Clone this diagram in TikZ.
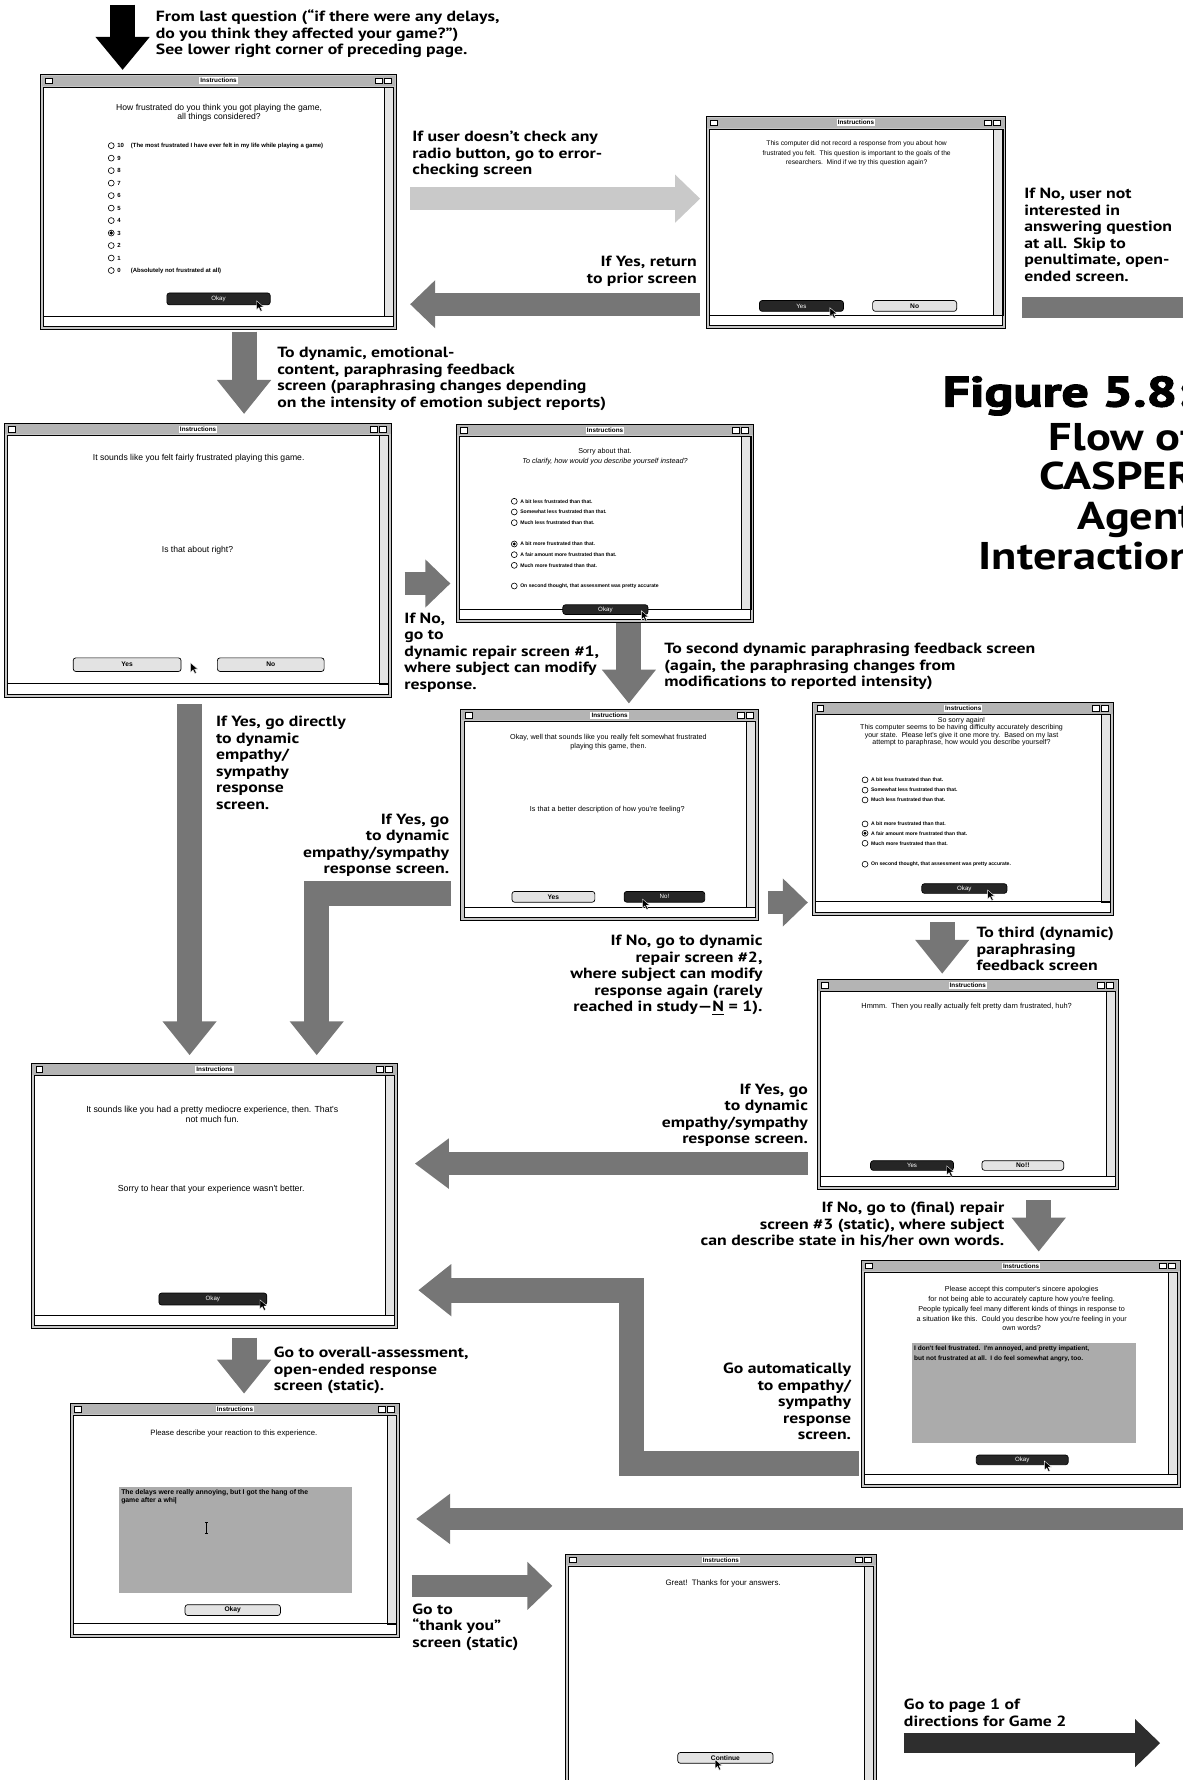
\documentclass[tikz,border=0pt]{standalone}
\usepackage{fontspec}
\setmainfont{PT Sans}[BoldFeatures={FakeStretch=1.2}]
\newfontfamily\winfont{Liberation Sans}
\newfontfamily\heavyfont{PT Sans}[BoldFeatures={FakeBold=3,FakeStretch=1.28}]
\usepackage{tikz}
\usetikzlibrary{arrows.meta,positioning,calc,fit}
\definecolor{arrowgray}{HTML}{767676}
\definecolor{lightarrow}{HTML}{C9C9C9}
\definecolor{darkarrow}{HTML}{2E2E2E}
\definecolor{framegray}{HTML}{C6C6C6}
\definecolor{titlegray}{HTML}{B4B4B4}
\definecolor{scrollgray}{HTML}{E4E4E4}
\definecolor{fieldgray}{HTML}{ABABAB}
\newcommand{\upx}{0.0227cm}
\tikzset{
    screen/.style={draw, fill=framegray, inner sep=0pt, line width=0.5pt},
    field/.style={fill=fieldgray, inner sep=0pt},
    wt/.style 2 args={font=\winfont\fontsize{#1}{#2}\selectfont, align=center, inner sep=0pt, anchor=north},
    wrad/.style={font=\winfont\bfseries\fontsize{2.9}{3.5}\selectfont, inner sep=0pt, anchor=west},
    wtitle/.style={font=\winfont\bfseries\fontsize{3.6}{4}\selectfont, fill=white, inner sep=0.6pt},
    btnlight/.style={draw, fill=gray!22, rounded corners=1.5pt, line width=0.4pt, font=\winfont\bfseries\fontsize{3.8}{4}\selectfont, inner sep=0pt, minimum height=9.5*\upx},
    btndark/.style={btnlight, fill=black!85, text=white, font=\winfont\fontsize{3.5}{4}\selectfont},
    lbl/.style={font=\bfseries\fontsize{8.4}{9.4}\selectfont, align=left, inner sep=0pt, anchor=north west},
    lblr/.style={lbl, align=right, anchor=north east},
    fatv/.style={draw=arrowgray, line width=0.5cm, line join=miter, -{Triangle[length=0.68cm, width=1.04cm]}},
    fath/.style={draw=arrowgray, line width=0.454cm, -{Triangle[length=0.5cm, width=0.93cm]}},
    fatlong/.style={fath, -{Triangle[length=0.68cm, width=0.96cm]}}
}
% window title bar, scroll bar and bottom bar round a screen node
\newcommand{\winchrome}[1]{%
  \fill[white] ($(#1.north west)+(3,11)$) rectangle ($(#1.south east)+(-3,-3)$);
  \fill[titlegray] ($(#1.north west)+(1,1)$) rectangle ($(#1.north east)+(-1,10)$);
  \node[wtitle] at ($(#1.north)+(0,5.5)$) {Instructions};
  \draw[fill=white, line width=0.3pt] ($(#1.north west)+(4,3)$) rectangle ++(6,5);
  \draw[fill=white, line width=0.3pt] ($(#1.north east)+(-19,3)$) rectangle ++(6,5);
  \draw[fill=white, line width=0.3pt] ($(#1.north east)+(-11,3)$) rectangle ++(6,5);
  \draw[fill=scrollgray, line width=0.3pt] ($(#1.north east)+(-11,11)$) rectangle ($(#1.south east)+(-3,-12)$);
  \draw[line width=0.4pt] ($(#1.south west)+(3,-12)$) -- ($(#1.south east)+(-3,-12)$);
  \draw[line width=0.4pt] ($(#1.north west)+(3,11)$) rectangle ($(#1.south east)+(-3,-3)$);
}
\newcommand{\radio}[2]{\draw[line width=0.35pt, fill=white] (#1,#2) circle[radius=2.6];}
\newcommand{\radiosel}[2]{\radio{#1}{#2}\fill (#1,#2) circle[radius=1.5];}
\newcommand{\mousept}[2]{\filldraw[black, draw=white, line width=0.2pt] (#1,#2) -- ++(0,8) -- ++(2,-2) -- ++(1.6,3.3) -- ++(1.4,-0.7) -- ++(-1.6,-3.2) -- ++(2.9,0) -- cycle;}

\begin{document}
\begin{tikzpicture}[x=0.0227cm, y=-0.0227cm]
\useasboundingbox (0,0) rectangle (1042,1568);
\clip (0,0) rectangle (1042,1568);

% screens
\node[screen, fit={(36,66) (349,290)}] (s1) {};
\winchrome{s1}
\node[screen, fit={(622,103) (886,289)}] (s2) {};
\winchrome{s2}
\node[screen, fit={(4,373) (345,614)}] (s3) {};
\winchrome{s3}
\node[screen, fit={(402,374) (664,548)}] (s4) {};
\winchrome{s4}
\node[screen, fit={(406,625) (668,811)}] (s5) {};
\winchrome{s5}
\node[screen, fit={(716,619) (981,806)}] (s6) {};
\winchrome{s6}
\node[screen, fit={(720,863) (985,1048)}] (s7) {};
\winchrome{s7}
\node[screen, fit={(759,1110) (1040,1310)}] (s8) {};
\winchrome{s8}
\node[screen, fit={(28,937) (350,1170)}] (s9) {};
\winchrome{s9}
\node[screen, fit={(62,1236) (352,1442)}] (s10) {};
\winchrome{s10}
\node[screen, fit={(498,1369) (772,1585)}] (s11) {};
\winchrome{s11}

% screen 1
\node[wt={4.9}{5.3}] at (193,91.5) {How frustrated do you think you got playing the game,\\all things considered?};
\foreach \v [count=\i from 0] in {10,9,...,0} {
    \radio{98}{128.3+11*\i}
    \node[wrad, font=\winfont\bfseries\fontsize{3.4}{4}\selectfont] at (103,128.3+11*\i) {\v};
}
\fill (98,205.3) circle[radius=1.6];
\node[wrad, font=\winfont\bfseries\fontsize{3.4}{4}\selectfont] at (115,128.3) {(The most frustrated I have ever felt in my life while playing a game)};
\node[wrad, font=\winfont\bfseries\fontsize{3.4}{4}\selectfont] at (115,238.3) {(Absolutely not frustrated at all)};
\node[btndark, minimum width=91*\upx, minimum height=10.5*\upx] (ok1) at (192.5,263.3) {Okay};
\mousept{226}{265}

% screen 2
\node[wt={3.8}{5.5}] at (754.6,123.5) {This computer did not record a response from you about how\\frustrated you felt.\ \ This question is important to the goals of the\\researchers.\ \ Mind if we try this question again?};
\node[btndark, minimum width=74*\upx] (yes2) at (706,269.5) {Yes};
\node[btnlight, minimum width=74*\upx] (no2) at (805.7,269.5) {No};
\mousept{731}{271}

% screen 3
\node[wt={4.9}{5.5}] at (175,400) {It sounds like you felt fairly frustrated playing this game.};
\node[wt={4.9}{5.5}] at (174,480.5) {Is that about right?};
\node[btnlight, minimum width=95*\upx, minimum height=12*\upx] (yes3) at (112,585.5) {Yes};
\node[btnlight, minimum width=94*\upx, minimum height=12*\upx] (no3) at (238.5,585.5) {No};
\mousept{168}{584}

% screen 4
\node[wt={4.1}{5.5}] at (533,394.5) {Sorry about that.\\\textit{To clarify, how would you describe yourself instead?}};
\radio{453}{441.6} \node[wrad] at (458,441.6) {A bit less frustrated than that.};
\radio{453}{451}   \node[wrad] at (458,451) {Somewhat less frustrated than that.};
\radio{453}{460.4} \node[wrad] at (458,460.4) {Much less frustrated than that.};
\radiosel{453}{479.2} \node[wrad] at (458,479.2) {A bit more frustrated than that.};
\radio{453}{488.6} \node[wrad] at (458,488.6) {A fair amount more frustrated than that.};
\radio{453}{498}   \node[wrad] at (458,498) {Much more frustrated than that.};
\radio{453}{516.2} \node[wrad] at (458,516.2) {On second thought, that assessment was pretty accurate};
\node[btndark, minimum width=75*\upx, minimum height=8.5*\upx] (ok4) at (533.3,537) {Okay};
\mousept{565}{538}

% screen 5
\node[wt={4.1}{5.3}] at (536,646.5) {Okay, well that sounds like you really felt somewhat frustrated\\playing this game, then.};
\node[wt={4.1}{5.3}] at (535,709.5) {Is that a better description of how you're feeling?};
\node[btnlight, minimum width=73*\upx] (yes5) at (487.5,790) {Yes};
\node[btndark, minimum width=71*\upx] (no5) at (585.3,790) {No!};
\mousept{566}{792}

% screen 6
\node[wt={4}{4.3}] at (847,631.3) {So sorry again!\\This computer seems to be having difficulty accurately describing\\your state.\ \ Please let's give it one more try.\ \ Based on my last\\attempt to paraphrase, how would you describe yourself?};
\radio{762}{687}   \node[wrad] at (767,687) {A bit less frustrated than that.};
\radio{762}{696}   \node[wrad] at (767,696) {Somewhat less frustrated than that.};
\radio{762}{704.7} \node[wrad] at (767,704.7) {Much less frustrated than that.};
\radio{762}{725.8} \node[wrad] at (767,725.8) {A bit more frustrated than that.};
\radiosel{762}{734} \node[wrad] at (767,734) {A fair amount more frustrated than that.};
\radio{762}{742.8} \node[wrad] at (767,742.8) {Much more frustrated than that.};
\radio{762}{761.3} \node[wrad] at (767,761.3) {On second thought, that assessment was pretty accurate.};
\node[btndark, minimum width=75*\upx, minimum height=8.5*\upx] (ok6) at (849.5,782.7) {Okay};
\mousept{870}{784}

% screen 7
\node[wt={4.2}{5}] at (851.5,883.3) {Hmmm.\ \ Then you really actually felt pretty darn frustrated, huh?};
\node[btndark, minimum width=73*\upx, minimum height=8.5*\upx] (yes7) at (803.4,1026.7) {Yes};
\node[btnlight, minimum width=72*\upx, minimum height=8.5*\upx] (no7) at (901,1026.7) {No!!};
\mousept{834}{1027}

% screen 8
\node[wt={4.1}{5.6}] at (900,1132.8) {Please accept this computer's sincere apologies\\for not being able to accurately capture how you're feeling.\\People typically feel many different kinds of things in response to\\a situation like this.\ \ Could you describe how you're feeling in your\\own words?};
\node[field, fit={(803,1183) (1001,1271)}] (tf8) {};
\node[wrad, anchor=north west, align=left, font=\winfont\bfseries\fontsize{3.7}{5.2}\selectfont] at (805,1185.5) {I don't feel frustrated.\ \ I'm annoyed, and pretty impatient,\\but not frustrated at all.\ \ I do feel somewhat angry, too.};
\node[btndark, minimum width=81*\upx, minimum height=8.5*\upx] (ok8) at (900.5,1286) {Okay};
\mousept{920}{1287}

% screen 9
\node[wt={5}{5.6}] at (187,974.5) {It sounds like you had a pretty mediocre experience, then. That's\\not much fun.};
\node[wt={5}{5.6}] at (186,1043.3) {Sorry to hear that your experience wasn't better.};
\node[btndark, minimum width=95*\upx, minimum height=10.5*\upx] (ok9) at (187.5,1144.3) {Okay};
\mousept{229}{1145}

% screen 10
\node[wt={4.4}{5}] at (206,1259.5) {Please describe your reaction to this experience.};
\node[field, fit={(105,1310) (310,1403)}] (tf10) {};
\node[wrad, anchor=north west, align=left, font=\winfont\bfseries\fontsize{3.9}{4.6}\selectfont] at (106.5,1312) {The delays were really annoying, but I got the hang of the\\game after a whi|};
\draw[line width=0.45pt] (180.5,1341) -- (183.5,1341) (182,1341) -- (182,1351) (180.5,1351) -- (183.5,1351);
\node[btnlight, minimum width=84*\upx] (ok10) at (205,1418.3) {Okay};

% screen 11
\node[wt={4.5}{5}] at (637,1391) {Great!\ \ Thanks for your answers.};
\node[btnlight, minimum width=84*\upx] (cont) at (639,1548.5) {Continue};
\mousept{630}{1550}

% connectors
\coordinate (prev) at (108,4);
\draw[fatv, draw=black, -{Triangle[length=0.66cm, width=1.04cm]}, shorten >=0.09cm] (prev) -- (prev |- s1.north);
\draw[fath, draw=lightarrow, shorten <=0.27cm, shorten >=0.11cm] (s1.east |- 0,175) -- (s2.west |- 0,175);
\draw[fath, shorten <=0.11cm, shorten >=0.27cm] (s2.west |- 0,268) -- (s1.east |- 0,268);
\coordinate (skip) at (1060,271);
\draw[fath, -, line width=0.41cm, shorten <=0.32cm] (s2.east |- skip) -- (skip);
\draw[fatv, shorten <=0.04cm, shorten >=0.18cm] (s1.south -| 215,0) -- (s3.north -| 215,0);
\draw[fath, shorten <=0.25cm, shorten >=0.11cm] (s3.east |- 0,514) -- (s4.west |- 0,514);
\draw[fatv, shorten >=0.11cm] (s4.south -| 554,0) -- (s5.north -| 554,0);
\draw[fath, shorten <=0.18cm, shorten >=0.09cm] (s5.east |- 0,795) -- (s6.west |- 0,795);
\draw[fatv, shorten <=0.14cm, shorten >=0.11cm] (s6.south -| 830,0) -- (s7.north -| 830,0);
\draw[fatlong, shorten <=0.18cm, shorten >=0.34cm] (s7.west |- 0,1025) -- (s9.east |- 0,1025);
\draw[fatv, shorten <=0.2cm, shorten >=0.16cm] (s7.south -| 915,0) -- (s8.north -| 915,0);
\coordinate (k1) at (556,1289.5);
\coordinate (k2) at (556,1136.5);
\draw[fatv, -{Triangle[length=0.66cm, width=1cm]}, shorten <=0.05cm, shorten >=0.41cm] (s8.west |- k1) -- (k1) -- (k2) -- (s9.east |- k2);
\draw[fatv, shorten <=0.14cm, shorten >=0.16cm] (s3.south -| 167,0) -- (s9.north -| 167,0);
\coordinate (k3) at (279,787);
\draw[fatv, shorten <=0.18cm, shorten >=0.16cm] (s5.west |- k3) -- (k3) -- (s9.north -| k3);
\draw[fatv, shorten <=0.18cm, shorten >=0.18cm] (s9.south -| 215,0) -- (s10.north -| 215,0);
\coordinate (skipin) at (1060,1338);
\draw[fatlong, shorten >=0.32cm] (skipin) -- (s10.east |- skipin);
\draw[fath, shorten <=0.23cm, shorten >=0.25cm] (s10.east |- 0,1397) -- (s11.west |- 0,1397);
\coordinate (game2) at (1022,1535.5);
\draw[fath, draw=darkarrow, line width=0.39cm, shorten <=0.54cm] (s11.east |- game2) -- (game2);

% labels
\node[lbl] (lprev) at (137,8.5) {From last question (“if there were any delays,\\do you think they affected your game?”)\\See lower right corner of preceding page.};
\node[lbl] (l1) at (363,115.5) {If user doesn't check any\\radio button, go to error-\\checking screen};
\node[lblr] (l2) at (614,225.5) {If Yes, return\\to prior screen};
\node[lbl] (l3) at (902,165.5) {If No, user not\\interested in\\answering question\\at all. Skip to\\penultimate, open-\\ended screen.};
\node[lbl] (l4) at (244,305.5) {To dynamic, emotional-\\content, paraphrasing feedback\\screen (paraphrasing changes depending\\on the intensity of emotion subject reports)};
\node[lbl] (l5) at (356,539.5) {If No,\\go to\\dynamic repair screen \#1,\\where subject can modify\\response.};
\node[lbl] (l6) at (585,566.5) {To second dynamic paraphrasing feedback screen\\(again, the paraphrasing changes from\\modifications to reported intensity)};
\node[lbl] (l7) at (190,630.5) {If Yes, go directly\\to dynamic\\empathy/\\sympathy\\response\\screen.};
\node[lblr] (l8) at (396,716.5) {If Yes, go\\to dynamic\\empathy/sympathy\\response screen.};
\node[lblr] (l9) at (672,823.5) {If No, go to dynamic\\repair screen \#2,\\where subject can modify\\response again (rarely\\reached in study—\underline{N} = 1).};
\node[lbl] (l10) at (860,816.5) {To third (dynamic)\\paraphrasing\\feedback screen};
\node[lblr] (l11) at (712,954.5) {If Yes, go\\to dynamic\\empathy/sympathy\\response screen.};
\node[lblr] (l12) at (885,1058.5) {If No, go to (final) repair\\screen \#3 (static), where subject\\can describe state in his/her own words.};
\node[lbl] (l13) at (241,1186.5) {Go to overall-assessment,\\open-ended response\\screen (static).};
\node[lblr] (l14) at (750,1200.5) {Go automatically\\to empathy/\\sympathy\\response\\screen.};
\node[lbl] (l15) at (363,1412.5) {Go to\\“thank you”\\screen (static)};
\node[lbl] (l16) at (796,1496.5) {Go to page 1 of\\directions for Game 2};

% figure title
\node[font=\heavyfont\bfseries\fontsize{24}{25}\selectfont, anchor=base east, inner sep=0pt] (fig) at (1050,358) {Figure 5.8:};
\node[font=\bfseries\fontsize{22}{22.6}\selectfont, align=right, anchor=north east, inner sep=0pt] (flow) at (1053,372) {Flow of\\CASPER\\Agent\\Interaction};
\end{tikzpicture}
\end{document}
